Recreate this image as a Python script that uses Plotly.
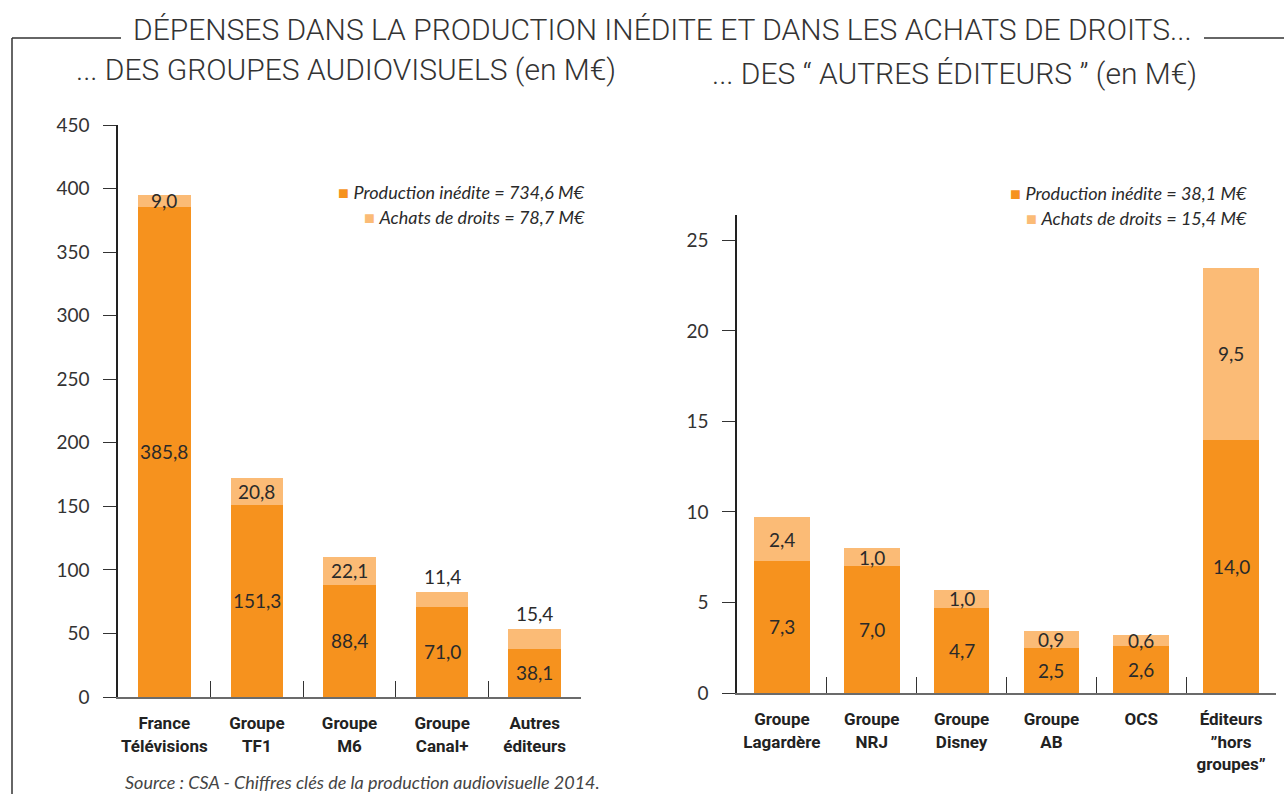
import plotly.graph_objects as go

# ---------------- data ----------------
left_categories = ["France<br>Télévisions", "Groupe<br>TF1", "Groupe<br>M6",
                   "Groupe<br>Canal+", "Autres<br>éditeurs"]
left_production = [385.8, 151.3, 88.4, 71.0, 38.1]
left_achats = [9.0, 20.8, 22.1, 11.4, 15.4]
left_ticks = [0, 50, 100, 150, 200, 250, 300, 350, 400, 450]

right_categories = ["Groupe<br>Lagardère", "Groupe<br>NRJ", "Groupe<br>Disney",
                    "Groupe<br>AB", "OCS", "Éditeurs<br>\u201dhors<br>groupes\u201d"]
right_production = [7.3, 7.0, 4.7, 2.5, 2.6, 14.0]
right_achats = [2.4, 1.0, 1.0, 0.9, 0.6, 9.5]
right_ticks = [0, 5, 10, 15, 20, 25]

# ---------------- style ----------------
W, H = 1284, 794
DARK = "#F6921E"
LIGHT = "#FBBB76"
TXT = "#2a2a2a"
NUM_FONT = "Lato, 'Open Sans', sans-serif"
CAT_FONT = "Roboto, sans-serif"
TITLE_FONT = "Roboto, sans-serif"


def px_x(x):
    return x / W


def px_y(y):
    return 1 - y / H


def fmt(v):
    return f"{v:.1f}".replace(".", ",")


fig = go.Figure()

fig.add_trace(go.Bar(x=left_categories, y=left_production, marker_color=DARK,
                     width=0.57, xaxis="x", yaxis="y", showlegend=False,
                     name="Production inédite", hoverinfo="skip"))
fig.add_trace(go.Bar(x=left_categories, y=left_achats, marker_color=LIGHT,
                     width=0.57, xaxis="x", yaxis="y", showlegend=False,
                     name="Achats de droits", hoverinfo="skip"))
fig.add_trace(go.Bar(x=right_categories, y=right_production, marker_color=DARK,
                     width=0.62, xaxis="x2", yaxis="y2", showlegend=False,
                     name="Production inédite", hoverinfo="skip"))
fig.add_trace(go.Bar(x=right_categories, y=right_achats, marker_color=LIGHT,
                     width=0.62, xaxis="x2", yaxis="y2", showlegend=False,
                     name="Achats de droits", hoverinfo="skip"))

annotations = []
label_font = dict(family=NUM_FONT, size=19, color=TXT)

# left bar labels
outside_top = {3, 4}
for i, c in enumerate(left_categories):
    p, a = left_production[i], left_achats[i]
    annotations.append(dict(x=c, y=p / 2, xref="x", yref="y", text=fmt(p),
                            showarrow=False, font=label_font))
    if i in outside_top:
        annotations.append(dict(x=c, y=p + a, xref="x", yref="y", text=fmt(a),
                                showarrow=False, font=label_font, yanchor="bottom", yshift=2))
    else:
        annotations.append(dict(x=c, y=p + a / 2, xref="x", yref="y", text=fmt(a),
                                showarrow=False, font=label_font))

for i, c in enumerate(right_categories):
    p, a = right_production[i], right_achats[i]
    annotations.append(dict(x=c, y=p / 2, xref="x2", yref="y2", text=fmt(p),
                            showarrow=False, font=label_font))
    annotations.append(dict(x=c, y=p + a / 2, xref="x2", yref="y2", text=fmt(a),
                            showarrow=False, font=label_font))

# legends (as annotations)
leg_font = dict(family=NUM_FONT, size=18, color=TXT)


def leg_text(color, label, total):
    return (f'<span style="color:{color}">\u25A0</span> '
            f'<i>{label} = {fmt(total)} M\u20ac</i>')


for x_right, y1, y2, prod, ach in [
    (586, 192, 217, left_production, left_achats),
    (1248, 193, 218, right_production, right_achats),
]:
    annotations.append(dict(x=px_x(x_right), y=px_y(y1), xref="paper", yref="paper",
                            xanchor="right", yanchor="middle", showarrow=False,
                            text=leg_text(DARK, "Production inédite", sum(prod)),
                            font=leg_font, borderpad=0))
    annotations.append(dict(x=px_x(x_right), y=px_y(y2), xref="paper", yref="paper",
                            xanchor="right", yanchor="middle", showarrow=False,
                            text=leg_text(LIGHT, "Achats de droits", sum(ach)),
                            font=leg_font, borderpad=0))

title_font = dict(family=TITLE_FONT, size=30, color="#333333", weight=300)
# titles
annotations.append(dict(x=px_x(662), y=px_y(30), xref="paper", yref="paper",
                        xanchor="center", yanchor="middle", showarrow=False,
                        text="DÉPENSES DANS LA PRODUCTION INÉDITE ET DANS LES ACHATS DE DROITS...",
                        font=title_font))
annotations.append(dict(x=px_x(346), y=px_y(70), xref="paper", yref="paper",
                        xanchor="center", yanchor="middle", showarrow=False,
                        text="... DES GROUPES AUDIOVISUELS (en M\u20ac)",
                        font=title_font))
annotations.append(dict(x=px_x(954), y=px_y(73), xref="paper", yref="paper",
                        xanchor="center", yanchor="middle", showarrow=False,
                        text="... DES \u201c AUTRES ÉDITEURS \u201d (en M\u20ac)",
                        font=title_font))
# source
annotations.append(dict(x=px_x(123), y=px_y(782), xref="paper", yref="paper",
                        xanchor="left", yanchor="middle", showarrow=False,
                        text="<i>Source : CSA - Chiffres clés de la production audiovisuelle 2014.</i>",
                        font=dict(family=NUM_FONT, size=18, color="#444444")))

shapes = [
    dict(type="line", xref="paper", yref="paper", x0=px_x(12), x1=px_x(121),
         y0=px_y(38), y1=px_y(38), line=dict(color="#333333", width=1.5)),
    dict(type="line", xref="paper", yref="paper", x0=px_x(1204), x1=px_x(1284),
         y0=px_y(38), y1=px_y(38), line=dict(color="#333333", width=1.5)),
    dict(type="line", xref="paper", yref="paper", x0=px_x(12), x1=px_x(12),
         y0=px_y(38), y1=0, line=dict(color="#333333", width=1.5)),
]

xaxis_common = dict(type="category", showgrid=False, showline=True, linecolor="#6b6b6b",
                    linewidth=2, ticks="inside", tickson="boundaries", ticklen=16,
                    tickcolor="#333333", tickwidth=1.2, ticklabelstandoff=10,
                    tickangle=0, automargin=False,
                    tickfont=dict(family=CAT_FONT, size=17, color="#222222", weight="bold"),
                    fixedrange=True)
yaxis_common = dict(showgrid=False, zeroline=False, showline=True, linecolor="#222222",
                    linewidth=1.5, ticks="outside", ticklen=13, tickcolor="#333333",
                    tickwidth=1.2, ticklabelstandoff=10, automargin=False,
                    tickfont=dict(family=NUM_FONT, size=19, color="#333333"),
                    fixedrange=True)

fig.update_layout(
    template="none",
    width=W, height=H,
    margin=dict(l=0, r=0, t=0, b=0, autoexpand=False),
    paper_bgcolor="white", plot_bgcolor="white",
    barmode="stack",
    showlegend=False,
    xaxis=dict(domain=[px_x(118), px_x(581)], anchor="y", **xaxis_common),
    yaxis=dict(domain=[px_y(697), px_y(125)], anchor="x", range=[0, 450],
               tickvals=left_ticks, **yaxis_common),
    xaxis2=dict(domain=[px_x(737), px_x(1276)], anchor="y2", **xaxis_common),
    yaxis2=dict(domain=[px_y(693), px_y(215)], anchor="x2", range=[0, 26.4],
                tickvals=right_ticks, **yaxis_common),
    annotations=annotations,
    shapes=shapes,
)

fig.write_html("out.html", config={"displayModeBar": False},
               post_script="document.body.style.margin='0';")
